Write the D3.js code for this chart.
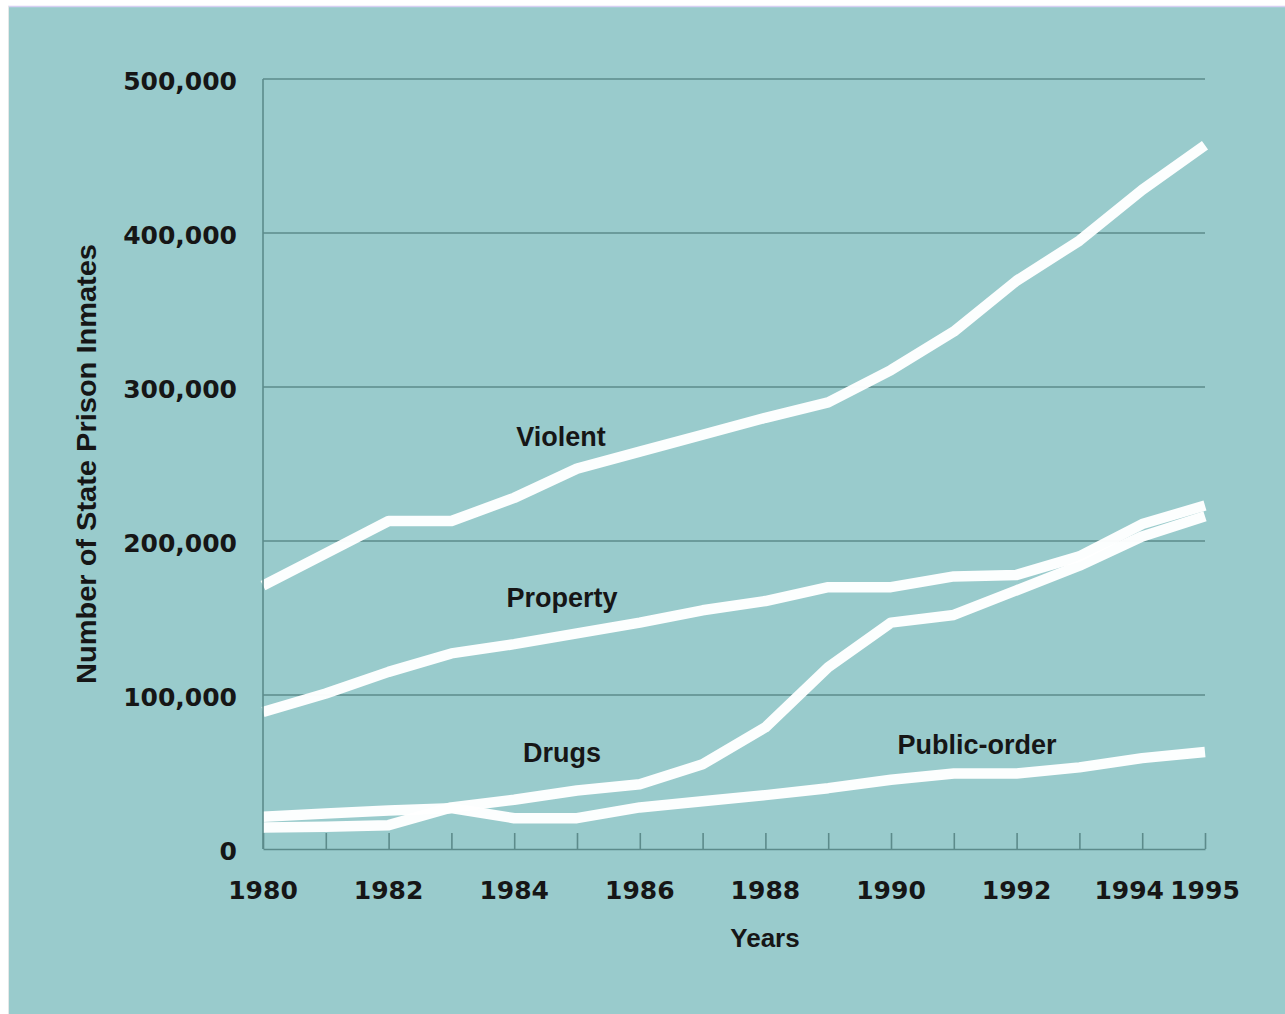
<!DOCTYPE html>
<meta charset="utf-8">

<!-- Load d3.js -->
<script src="https://d3js.org/d3.v7.min.js"></script>

<style>
  body { margin: 0; background: #ffffff; }
</style>

<!-- Create a div where the graph will take place -->
<div id="my_dataviz"></div>

<script>

// data (state prison inmates by offense)
var years = [1980, 1981, 1982, 1983, 1984, 1985, 1986, 1987, 1988, 1989, 1990, 1991, 1992, 1993, 1994, 1995];
var violent = [171000, 192000, 213000, 213000, 228000, 247000, 258000, 269000, 280000, 290000, 311000, 336000, 369000, 395000, 428000, 457000];
var property = [89000, 101000, 115000, 127000, 133000, 140000, 147000, 155000, 161000, 170000, 170000, 177000, 178000, 190000, 211000, 223000];
var drugs = [14000, 14500, 15500, 27000, 32000, 38000, 42000, 55000, 79000, 118000, 147000, 152000, 168000, 184000, 203000, 216000];
var publicOrder = [21000, 23000, 25000, 26500, 20000, 20000, 27000, 31000, 35000, 39500, 45000, 49000, 49000, 53000, 59000, 63000];

var seriesNames = ["Violent", "Property", "Drugs", "Public-order"];
var seriesValues = [violent, property, drugs, publicOrder];

var yTicks = [0, 100000, 200000, 300000, 400000, 500000];
var xTickLabels = [1980, 1982, 1984, 1986, 1988, 1990, 1992, 1994, 1995];

// set the dimensions of the page
var width = 1285,
    height = 1014;

var svg = d3.select("#my_dataviz")
  .append("svg")
    .attr("width", width)
    .attr("height", height);

// teal panel
svg.append("rect")
  .attr("x", 8).attr("y", 6)
  .attr("width", width - 8).attr("height", height - 6)
  .style("fill", "#99cbcc");
svg.append("line")
  .attr("x1", 8).attr("x2", width).attr("y1", 6.5).attr("y2", 6.5)
  .style("stroke", "#d6d0f2").style("stroke-width", 1.5);
svg.append("line")
  .attr("x1", 8.5).attr("x2", 8.5).attr("y1", 6).attr("y2", height)
  .style("stroke", "#e4e8e8").style("stroke-width", 1);

// scales
var x = d3.scaleLinear()
  .domain([1980, 1995])
  .range([263, 1205]);

var y = d3.scaleLinear()
  .domain([0, 500000])
  .range([849, 79]);

var gridColor = "#5c8b8b";
var textColor = "#161616";

// horizontal grid lines
svg.append("g")
  .selectAll("line")
  .data(yTicks.slice(1))
  .enter()
  .append("line")
    .attr("x1", x(1980))
    .attr("x2", x(1995))
    .attr("y1", function(d) { return y(d); })
    .attr("y2", function(d) { return y(d); })
    .style("stroke", gridColor)
    .style("stroke-width", 1.6);

// the series lines
var line = d3.line()
  .x(function(d, i) { return x(years[i]); })
  .y(function(d) { return y(d); });

svg.append("g")
  .selectAll("path")
  .data(seriesValues)
  .enter()
  .append("path")
    .attr("d", function(d) { return line(d); })
    .style("fill", "none")
    .style("stroke", "#ffffff")
    .style("stroke-opacity", 0.97)
    .style("stroke-width", 10.5)
    .style("stroke-linejoin", "round")
    .style("stroke-linecap", "butt");

// X axis with inward ticks every year
var xAxis = svg.append("g")
  .attr("transform", "translate(0," + y(0) + ")")
  .call(d3.axisBottom(x)
    .tickValues(years)
    .tickSize(-16)
    .tickSizeOuter(0)
    .tickFormat(""));
xAxis.select(".domain").style("stroke", gridColor).style("stroke-width", 1.6);
xAxis.selectAll(".tick line").style("stroke", gridColor).style("stroke-width", 1.6);

// Y axis line
svg.append("line")
  .attr("x1", x(1980)).attr("x2", x(1980))
  .attr("y1", y(500000)).attr("y2", y(0))
  .style("stroke", gridColor)
  .style("stroke-width", 1.6);

// Y tick labels
svg.append("g")
  .selectAll("text")
  .data(yTicks)
  .enter()
  .append("text")
    .attr("x", 237)
    .attr("y", function(d) { return y(d) + 11; })
    .attr("text-anchor", "end")
    .style("font-family", "'DejaVu Sans', sans-serif")
    .style("font-weight", "bold")
    .style("font-size", "25px")
    .style("fill", textColor)
    .text(function(d) { return d3.format(",")(d); });

// X tick labels (1994 nudged left so it clears 1995)
svg.append("g")
  .selectAll("text")
  .data(xTickLabels)
  .enter()
  .append("text")
    .attr("x", function(d) { return x(d) + (d === 1994 ? -13 : 0); })
    .attr("y", 899)
    .attr("text-anchor", "middle")
    .style("font-family", "'DejaVu Sans', sans-serif")
    .style("font-weight", "bold")
    .style("font-size", "25px")
    .style("fill", textColor)
    .text(function(d) { return d; });

// X axis label
svg.append("text")
  .attr("x", 765)
  .attr("y", 947)
  .attr("text-anchor", "middle")
  .style("font-family", "'Liberation Sans', Arial, sans-serif")
  .style("font-weight", "bold")
  .style("font-size", "26px")
  .style("fill", textColor)
  .text("Years");

// Y axis label
svg.append("text")
  .attr("transform", "translate(96,464) rotate(-90)")
  .attr("text-anchor", "middle")
  .attr("textLength", 440)
  .attr("lengthAdjust", "spacingAndGlyphs")
  .style("font-family", "'Liberation Sans Narrow', 'Liberation Sans', Arial, sans-serif")
  .style("font-weight", "bold")
  .style("font-size", "27px")
  .style("fill", textColor)
  .text("Number of State Prison Inmates");

// series labels
var labelX = [561, 562, 562, 977];
var labelY = [446, 607, 762, 754];
svg.append("g")
  .selectAll("text")
  .data(seriesNames)
  .enter()
  .append("text")
    .attr("x", function(d, i) { return labelX[i]; })
    .attr("y", function(d, i) { return labelY[i]; })
    .attr("text-anchor", "middle")
    .style("font-family", "'Liberation Sans', Arial, sans-serif")
    .style("font-weight", "bold")
    .style("font-size", "27px")
    .style("fill", textColor)
    .text(function(d) { return d; });

</script>
